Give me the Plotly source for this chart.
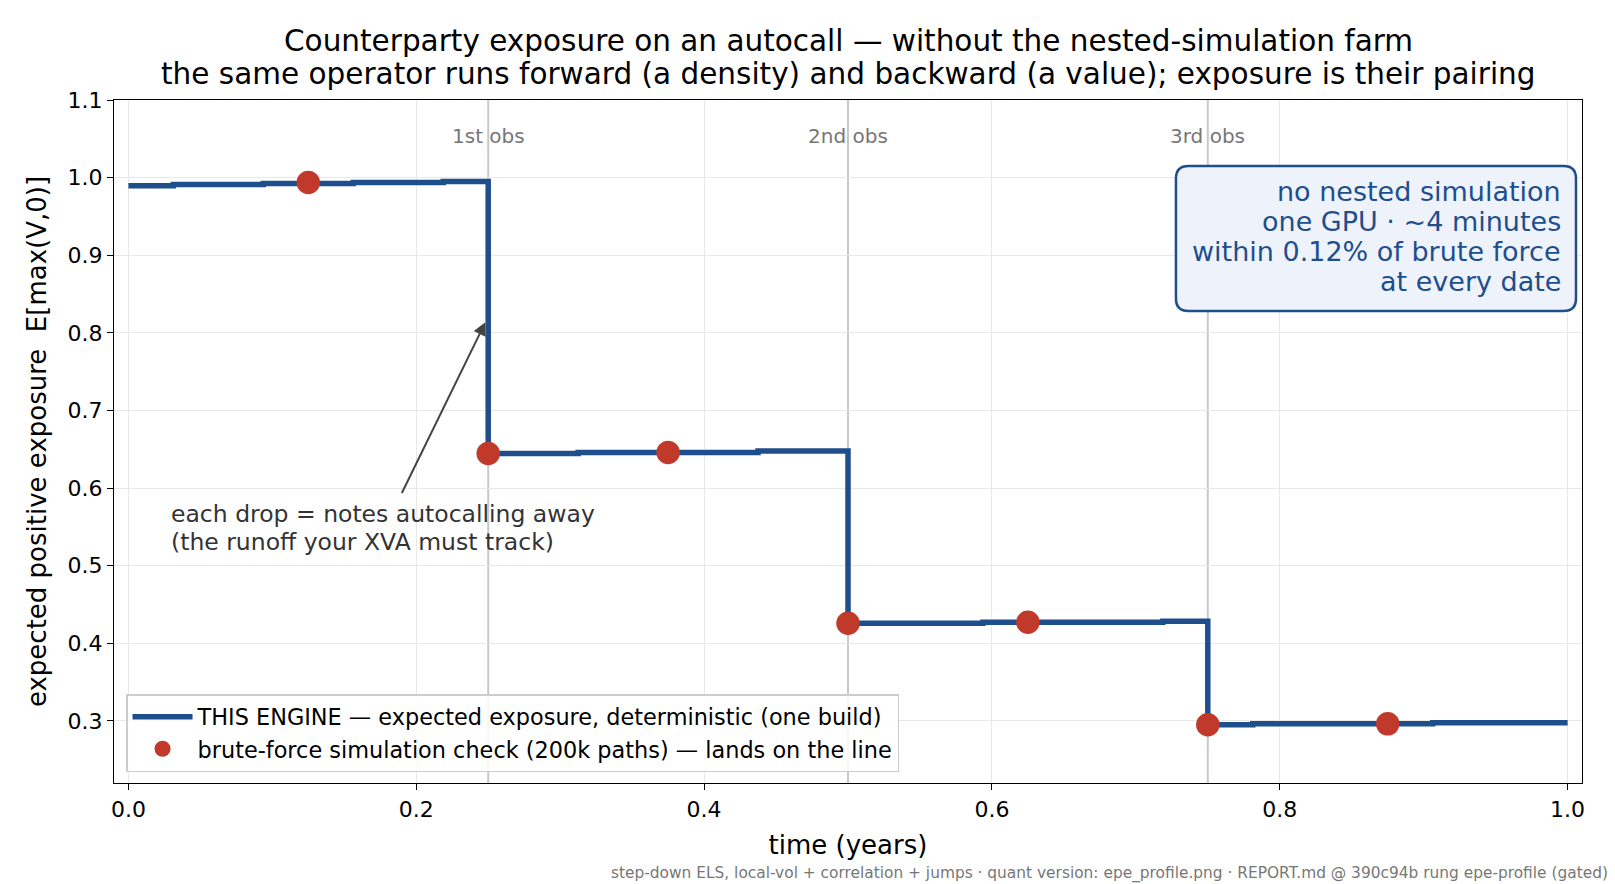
import plotly.graph_objects as go

# ---- data ----
step_times = [0.0, 0.03125, 0.09375, 0.15625, 0.21875, 0.25, 0.3125, 0.4375,
              0.5, 0.59375, 0.71875, 0.75, 0.78125, 0.90625, 1.0]
step_values = [0.9896, 0.9912, 0.9925, 0.9938, 0.9951, 0.6446, 0.6459, 0.6476,
               0.4258, 0.4271, 0.4284, 0.2949, 0.2962, 0.2975, 0.2975]

check_times = [0.125, 0.25, 0.375, 0.5, 0.625, 0.75, 0.875]
check_values = [0.9937, 0.6446, 0.6459, 0.4258, 0.4271, 0.2951, 0.2962]

obs_times = [0.25, 0.5, 0.75]
obs_labels = ["1st obs", "2nd obs", "3rd obs"]

x_ticks = [0.0, 0.2, 0.4, 0.6, 0.8, 1.0]
y_ticks = [0.3, 0.4, 0.5, 0.6, 0.7, 0.8, 0.9, 1.0, 1.1]

title_lines = ["Counterparty exposure on an autocall — without the nested-simulation farm",
               "the same operator runs forward (a density) and backward (a value); exposure is their pairing"]
box_lines = ["no nested simulation", "one GPU · ~4 minutes",
             "within 0.12% of brute force", "at every date"]
note_lines = ["each drop = notes autocalling away", "(the runoff your XVA must track)"]
footnote = ("step-down ELS, local-vol + correlation + jumps · quant version: epe_profile.png · "
            "REPORT.md @ 390c94b rung epe-profile (gated)")

BLUE = "#1f4e8c"
RED = "#c0392b"
FONT = "DejaVu Sans"

fig = go.Figure()
fig.add_trace(go.Scatter(
    x=step_times, y=step_values, mode="lines", line_shape="hv",
    line=dict(color=BLUE, width=5.5),
    name="THIS ENGINE — expected exposure, deterministic (one build)"))
fig.add_trace(go.Scatter(
    x=check_times, y=check_values, mode="markers",
    marker=dict(color=RED, size=23.5, line=dict(width=0)),
    name="brute-force simulation check (200k paths) — lands on the line"))

shapes = []
for t in obs_times:
    shapes.append(dict(type="line", xref="x", yref="paper", x0=t, x1=t, y0=0, y1=1,
                       line=dict(color="#c8c8c8", width=2), layer="between"))

# rounded box (paper coords)
x0, x1, y0, y1 = 0.7234, 0.9959, 0.6911, 0.9034
rx, ry = 0.0085, 0.0183
path = (f"M {x0+rx},{y1} L {x1-rx},{y1} Q {x1},{y1} {x1},{y1-ry} "
        f"L {x1},{y0+ry} Q {x1},{y0} {x1-rx},{y0} L {x0+rx},{y0} "
        f"Q {x0},{y0} {x0},{y0+ry} L {x0},{y1-ry} Q {x0},{y1} {x0+rx},{y1} Z")
shapes.append(dict(type="path", xref="paper", yref="paper", path=path,
                   fillcolor="#eef3fb", line=dict(color=BLUE, width=2.5), layer="above"))

annotations = []
title_y = [1.0861, 1.0378]
for yy, line in zip(title_y, title_lines):
    annotations.append(dict(x=0.5, y=yy, xref="paper", yref="paper", text=line,
                            showarrow=False, xanchor="center", yanchor="middle",
                            font=dict(family=FONT, size=29.5, color="black")))

for t, lab in zip(obs_times, obs_labels):
    annotations.append(dict(x=t, y=1.054, xref="x", yref="y", text=lab, showarrow=False,
                            font=dict(family=FONT, size=20, color="#777777"),
                            xanchor="center", yanchor="middle"))

box_y = [0.8659, 0.8221, 0.7785, 0.7347]
for yy, line in zip(box_y, box_lines):
    annotations.append(dict(x=0.987, y=yy, xref="paper", yref="paper", text=line,
                            showarrow=False, xanchor="right", yanchor="middle",
                            font=dict(family=FONT, size=27, color=BLUE)))

note_y = [0.5665, 0.5305]
for yy, line in zip(note_y, note_lines):
    annotations.append(dict(x=0.0285, y=yy, xref="x", yref="y", text=line, showarrow=False,
                            xanchor="left", yanchor="middle",
                            font=dict(family=FONT, size=23.5, color="#333333")))

annotations.append(dict(x=0.248, y=0.8136, ax=0.1895, ay=0.5917, xref="x", yref="y",
                        axref="x", ayref="y", text="", showarrow=True,
                        arrowhead=2, arrowsize=1.3, arrowwidth=2, arrowcolor="#444444",
                        standoff=0, startstandoff=0))

annotations.append(dict(x=0.337, y=-0.133, xref="paper", yref="paper", text=footnote,
                        showarrow=False, xanchor="left", yanchor="middle",
                        font=dict(family=FONT, size=15.4, color="#777777")))

fig.update_layout(
    width=1615, height=884,
    margin=dict(l=114, r=33, t=100, b=101),
    paper_bgcolor="white", plot_bgcolor="white",
    font=dict(family=FONT, color="black"),
    shapes=shapes, annotations=annotations,
    showlegend=True,
    legend=dict(x=0.0082, y=0.016, xanchor="left", yanchor="bottom",
                bgcolor="rgba(255,255,255,0.85)", bordercolor="#cccccc", borderwidth=1.5,
                font=dict(family=FONT, size=22.4, color="black"), tracegroupgap=0,
                itemwidth=60),
)
fig.update_xaxes(range=[-0.01, 1.01], tickvals=x_ticks, tickformat=".1f",
                 showgrid=True, gridcolor="#e8e8e8", gridwidth=1.2, zeroline=False,
                 showline=True, mirror=True, linecolor="black", linewidth=1.3,
                 ticks="outside", ticklen=6, tickwidth=1.3, tickcolor="black",
                 tickfont=dict(family=FONT, size=22, color="black"),
                 title=dict(text="time (years)", standoff=15,
                            font=dict(family=FONT, size=26, color="black")))
fig.update_yaxes(range=[0.22, 1.1], tickvals=y_ticks, tickformat=".1f",
                 showgrid=True, gridcolor="#e8e8e8", gridwidth=1.2, zeroline=False,
                 showline=True, mirror=True, linecolor="black", linewidth=1.3,
                 ticks="outside", ticklen=6, tickwidth=1.3, tickcolor="black",
                 tickfont=dict(family=FONT, size=22, color="black"),
                 title=dict(text="expected positive exposure\u00a0\u00a0E[max(V,0)]", standoff=13,
                            font=dict(family=FONT, size=26, color="black")))

fig.write_html("out.html")
